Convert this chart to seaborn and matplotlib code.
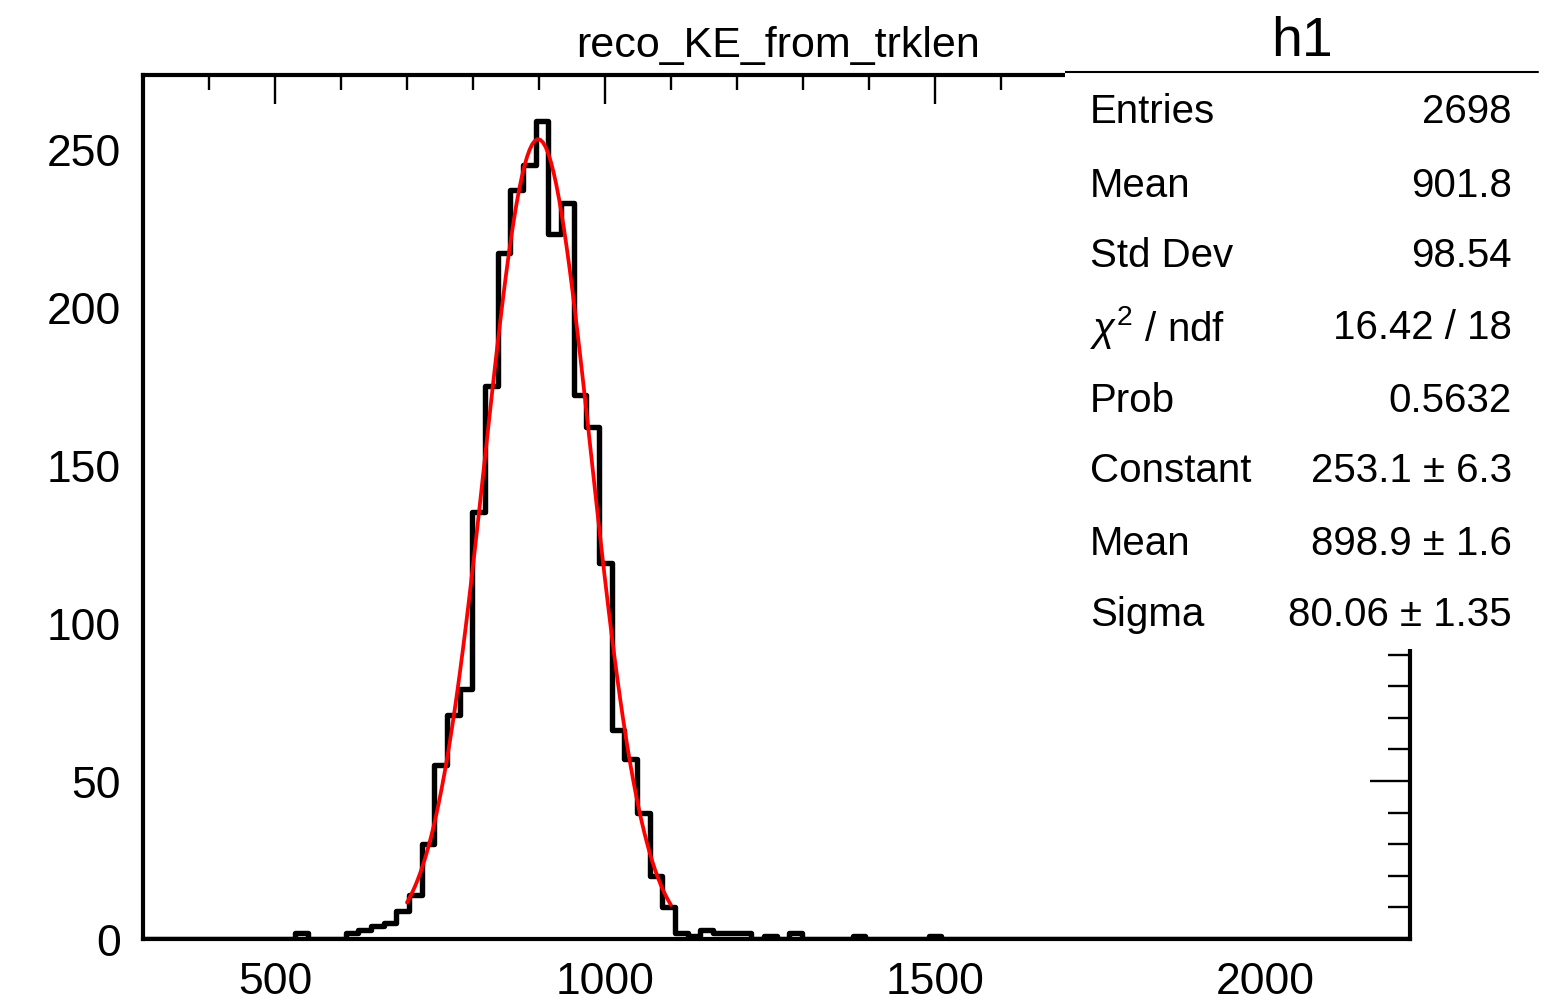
import numpy as np
import pandas as pd
import matplotlib
matplotlib.use("Agg")
import matplotlib.pyplot as plt
from matplotlib.lines import Line2D
from matplotlib.ticker import MultipleLocator, FixedLocator
import seaborn as sns

# ---------------- data ----------------
x_min, x_max, n_bins = 300.0, 2220.0, 100          # histogram axis definition
filled_bins = [12, 16, 17, 18, 19, 20, 21, 22, 23, 24, 25, 26, 27, 28, 29, 30,
               31, 32, 33, 34, 35, 36, 37, 38, 39, 40, 41, 42, 43, 44, 45, 46,
               47, 49, 51, 56, 62]
bin_counts = [2, 2, 3, 4, 5, 9, 14, 30, 55, 71, 79, 135, 175, 217, 237, 245,
              259, 223, 233, 172, 162, 119, 66, 57, 40, 20, 10, 2, 1, 3, 2, 2,
              2, 1, 2, 1, 1]

fit_constant, fit_mean, fit_sigma = 253.1, 898.9, 80.06
fit_range = (700.0, 1100.0)

title_text = "reco_KE_from_trklen"
stats_name = "h1"
stats_labels = ["Entries", "Mean", "Std Dev", r"$\chi^{2}$ / ndf", "Prob",
                "Constant", "Mean", "Sigma"]
stats_values = ["2698", "901.8", "98.54", "16.42 / 18", "0.5632",
                "253.1 \u00b1 6.3", "898.9 \u00b1 1.6", "80.06 \u00b1 1.35"]

x_major = [500, 1000, 1500, 2000]
y_major = [0, 50, 100, 150, 200, 250]
y_top = 273.4

# ---------------- style ----------------
sns.set_style("white")
plt.rcParams["font.family"] = ["Liberation Sans", "DejaVu Sans"]
plt.rcParams["mathtext.fontset"] = "custom"
plt.rcParams["mathtext.rm"] = "Liberation Sans"
plt.rcParams["mathtext.it"] = "Liberation Sans:italic"

W, H = 1567, 1004
fig = plt.figure(figsize=(W / 100, H / 100), dpi=100, facecolor="white")

def fx(px):
    return px / W

def fy(py):
    return 1 - py / H

ax = fig.add_axes([fx(143), fy(940), fx(1410) - fx(143), fy(76) - fy(940)])
ax.set_facecolor("white")

edges = np.linspace(x_min, x_max, n_bins + 1)
centers = 0.5 * (edges[:-1] + edges[1:])
counts = np.zeros(n_bins)
counts[filled_bins] = bin_counts
hist_df = pd.DataFrame({"x": centers, "w": counts})

sns.histplot(data=hist_df, x="x", weights="w", bins=[float(e) for e in edges],
             element="step", fill=False, color="black", linewidth=3.9, ax=ax)

fit_x = np.linspace(fit_range[0], fit_range[1], 100)
fit_y = fit_constant * np.exp(-0.5 * ((fit_x - fit_mean) / fit_sigma) ** 2)
sns.lineplot(x=fit_x, y=fit_y, color="red", linewidth=2.7, ax=ax)

ax.set_xlim(x_min, x_max)
ax.set_ylim(0, y_top)
ax.set_xlabel("")
ax.set_ylabel("")

ax.xaxis.set_major_locator(FixedLocator(x_major))
ax.xaxis.set_minor_locator(MultipleLocator(100))
ax.yaxis.set_major_locator(FixedLocator(y_major))
ax.yaxis.set_minor_locator(MultipleLocator(10))

ax.tick_params(axis="both", which="both", direction="in", top=True, right=True,
               colors="black", width=1.7, labelsize=32)
ax.tick_params(axis="x", which="major", length=21, pad=16)
ax.tick_params(axis="x", which="minor", length=11)
ax.tick_params(axis="y", which="major", length=29, pad=16)
ax.tick_params(axis="y", which="minor", length=16)

for s in ax.spines.values():
    s.set_visible(True)
    s.set_color("black")
    s.set_linewidth(3.0)

# title
fig.text(fx(778), fy(46), title_text, ha="center", va="center", fontsize=31,
         color="black")

# ---------------- stats box ----------------
box_ax = fig.add_axes([fx(1065), fy(650), fx(1545) - fx(1065), fy(0) - fy(650)])
box_ax.set_zorder(10)
box_ax.set_xticks([])
box_ax.set_yticks([])
for s in box_ax.spines.values():
    s.set_visible(False)
box_ax.patch.set_facecolor("white")

box_ax.text(fx(1302), fy(42), stats_name, transform=fig.transFigure,
            ha="center", va="center", fontsize=40, color="black")
box_ax.add_line(Line2D([fx(1065), fx(1538)], [fy(73), fy(73)],
                       transform=fig.transFigure, color="black", linewidth=1.5))

row_y = [112, 186, 256, 328, 401, 471, 544, 615]
for lab, val, yy in zip(stats_labels, stats_values, row_y):
    box_ax.text(fx(1090), fy(yy), lab, transform=fig.transFigure,
                ha="left", va="center", fontsize=29, color="black")
    box_ax.text(fx(1512), fy(yy), val, transform=fig.transFigure,
                ha="right", va="center", fontsize=29, color="black")

fig.savefig("out.png", dpi=100, facecolor="white")
